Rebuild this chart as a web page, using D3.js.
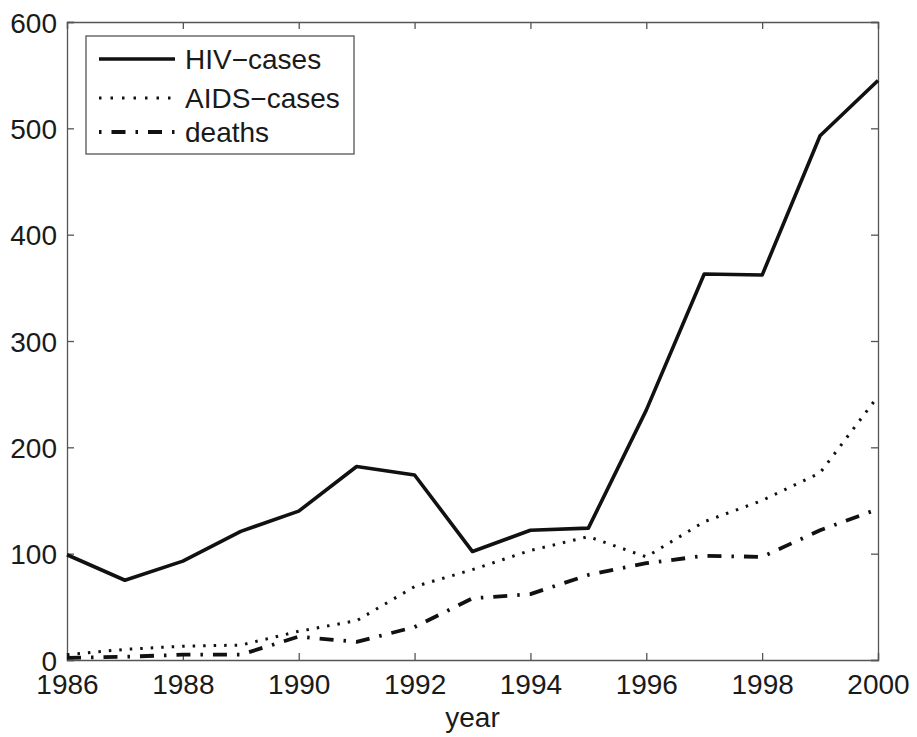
<!DOCTYPE html>
<html>
<head>
<meta charset="utf-8">
<script src="https://cdn.jsdelivr.net/npm/d3@7"></script>
<style>
  html, body { margin: 0; padding: 0; background: #fff; }
  svg { display: block; }
  text { font-family: "Liberation Sans", Arial, sans-serif; fill: #1a1a1a; }
</style>
</head>
<body>
<svg id="chart" width="917" height="737"></svg>
<script>
const years = [1986,1987,1988,1989,1990,1991,1992,1993,1994,1995,1996,1997,1998,1999,2000];
const hivCases  = [99, 75, 93, 121, 140, 182, 174, 102, 122, 124, 235, 363, 362, 493, 545];
const aidsCases = [5, 10, 13, 14, 27, 37, 69, 85, 103, 116, 97, 130, 150, 176, 248];
const deaths    = [2, 3, 5, 5, 22, 17, 31, 58, 62, 80, 91, 98, 97, 122, 142];
const xTicks = [1986,1988,1990,1992,1994,1996,1998,2000];
const yTicks = [0,100,200,300,400,500,600];
const seriesNames = ["HIV\u2212cases", "AIDS\u2212cases", "deaths"];
const xLabel = "year";

const svg = d3.select("#chart");
const L = 67, R = 878, T = 22, B = 660;
const x = d3.scaleLinear().domain([1986, 2000]).range([L, R]);
const y = d3.scaleLinear().domain([0, 600]).range([B, T]);

const styles = [
  {dash: null, width: 3.6},
  {dash: "2.5,8", width: 3},
  {dash: "14,10,2.5,10", width: 3.8}
];
const data = [hivCases, aidsCases, deaths];

// axes box
const axisColor = "#555";
const gx = svg.append("g").attr("transform", `translate(0,${B})`)
  .call(d3.axisBottom(x).tickValues(xTicks).tickFormat(d3.format("d")).tickSize(-7).tickPadding(14));
const gxt = svg.append("g").attr("transform", `translate(0,${T})`)
  .call(d3.axisTop(x).tickValues(xTicks).tickFormat("").tickSize(-7));
const gy = svg.append("g").attr("transform", `translate(${L},0)`)
  .call(d3.axisLeft(y).tickValues(yTicks).tickSize(-7).tickPadding(10));
const gyr = svg.append("g").attr("transform", `translate(${R},0)`)
  .call(d3.axisRight(y).tickValues(yTicks).tickFormat("").tickSize(-7));
[gx, gxt, gy, gyr].forEach(g => {
  g.selectAll("path.domain").attr("stroke", axisColor).attr("stroke-width", 1.3);
  g.selectAll(".tick line").attr("stroke", axisColor).attr("stroke-width", 1.3);
  g.selectAll(".tick text").style("font-size", "28px").attr("fill", "#1a1a1a")
   .style("font-family", '"Liberation Sans", Arial, sans-serif');
});
gy.selectAll(".tick text").attr("dy", "0.36em");

// lines
const line = d3.line().x((d, i) => x(years[i])).y(d => y(d));
data.forEach((s, k) => {
  svg.append("path").datum(s)
    .attr("d", line)
    .attr("fill", "none")
    .attr("stroke", "#111")
    .attr("stroke-width", styles[k].width)
    .attr("stroke-linejoin", "round")
    .attr("stroke-linecap", "butt")
    .attr("stroke-dasharray", styles[k].dash);
});

// x label
svg.append("text").attr("x", (L + R) / 2).attr("y", 727)
  .attr("text-anchor", "middle").style("font-size", "28px").text(xLabel);

// legend
const lg = svg.append("g");
lg.append("rect").attr("x", 86).attr("y", 36).attr("width", 268).attr("height", 118)
  .attr("fill", "#fff").attr("stroke", axisColor).attr("stroke-width", 1.3);
const rowsY = [59, 98, 132];
const legendDash = [null, "2.5,9", "2.5,10,14,10"];
seriesNames.forEach((name, k) => {
  lg.append("line").attr("x1", 99).attr("x2", 175).attr("y1", rowsY[k]).attr("y2", rowsY[k])
    .attr("stroke", "#111").attr("stroke-width", styles[k].width)
    .attr("stroke-dasharray", legendDash[k]);
  lg.append("text").attr("x", 185).attr("y", rowsY[k]).attr("dy", "0.36em")
    .style("font-size", "28px").text(name);
});
</script>
</body>
</html>
